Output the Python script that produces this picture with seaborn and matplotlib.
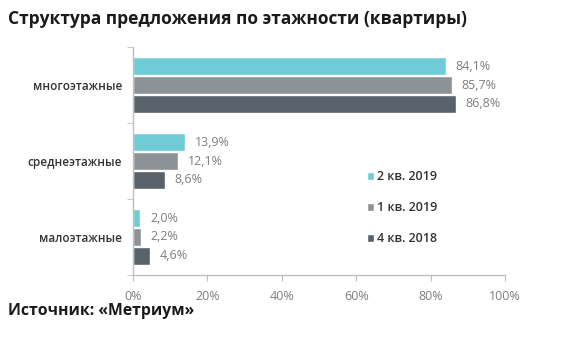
import matplotlib
matplotlib.use("Agg")
import matplotlib.pyplot as plt
import seaborn as sns
import pandas as pd
from matplotlib.patches import Patch

categories = ["многоэтажные", "среднеэтажные", "малоэтажные"]
periods = ["2 кв. 2019", "1 кв. 2019", "4 кв. 2018"]
q2_2019 = [84.1, 13.9, 2.0]
q1_2019 = [85.7, 12.1, 2.2]
q4_2018 = [86.8, 8.6, 4.6]
x_ticks = [0, 20, 40, 60, 80, 100]

colors = ["#6FCBD6", "#8D9296", "#59626A"]

rows = []
for p, vals in zip(periods, [q2_2019, q1_2019, q4_2018]):
    for c, v in zip(categories, vals):
        rows.append({"cat": c, "period": p, "value": v})
df = pd.DataFrame(rows)

sns.set_style("white")
plt.rcParams["font.family"] = ["Open Sans", "DejaVu Sans"]

fig = plt.figure(figsize=(5.82, 3.48), dpi=100)
ax = fig.add_axes([0.2285, 0.2098, 0.6392, 0.655])

sns.barplot(data=df, y="cat", x="value", hue="period", order=categories,
            hue_order=periods, palette=colors, orient="h", width=0.74,
            gap=0.06, ax=ax, legend=False, saturation=1)

for cont in ax.containers:
    ax.bar_label(cont, labels=[f"{v:.1f}%".replace(".", ",") for v in cont.datavalues],
                 padding=7, color="#7F7F7F", fontsize=9)

ax.set_xlim(0, 100)
ax.set_ylim(2.5, -0.5)
ax.set_xticks(x_ticks)
ax.set_xticklabels([f"{t}%" for t in x_ticks], color="#7F7F7F", fontsize=9)
ax.set_yticks(range(len(categories)))
ax.set_yticklabels(categories, color="#333333", fontsize=8.5, fontweight="semibold")
ax.set_yticks([-0.5, 0.5, 1.5, 2.5], minor=True)
ax.tick_params(axis="y", which="major", left=False, length=0, pad=8)
ax.tick_params(axis="y", which="minor", left=True, length=4, color="#BFBFBF", direction="out")
ax.tick_params(axis="x", bottom=True, length=4, color="#BFBFBF", direction="out", pad=7)
ax.set_xlabel("")
ax.set_ylabel("")
for s in ["top", "right"]:
    ax.spines[s].set_visible(False)
for s in ["left", "bottom"]:
    ax.spines[s].set_color("#BFBFBF")
    ax.spines[s].set_linewidth(1)

handles = [Patch(facecolor=c) for c in colors]
leg = ax.legend(handles, periods, loc="upper left", bbox_to_anchor=(0.6, 0.51),
                frameon=False, handlelength=0.5, handleheight=0.6, handletextpad=0.3,
                labelspacing=1.45, fontsize=9)
for t in leg.get_texts():
    t.set_color("#333333")
    t.set_fontweight("semibold")

fig.text(0.014, 0.945, "Структура предложения по этажности (квартиры)",
         fontsize=12.5, fontweight="bold", color="#1A1A1A", va="center")
fig.text(0.014, 0.105, "Источник: «Метриум»", fontsize=11.3,
         fontweight="bold", color="#1A1A1A", va="center")

fig.savefig("out.png", dpi=100)
